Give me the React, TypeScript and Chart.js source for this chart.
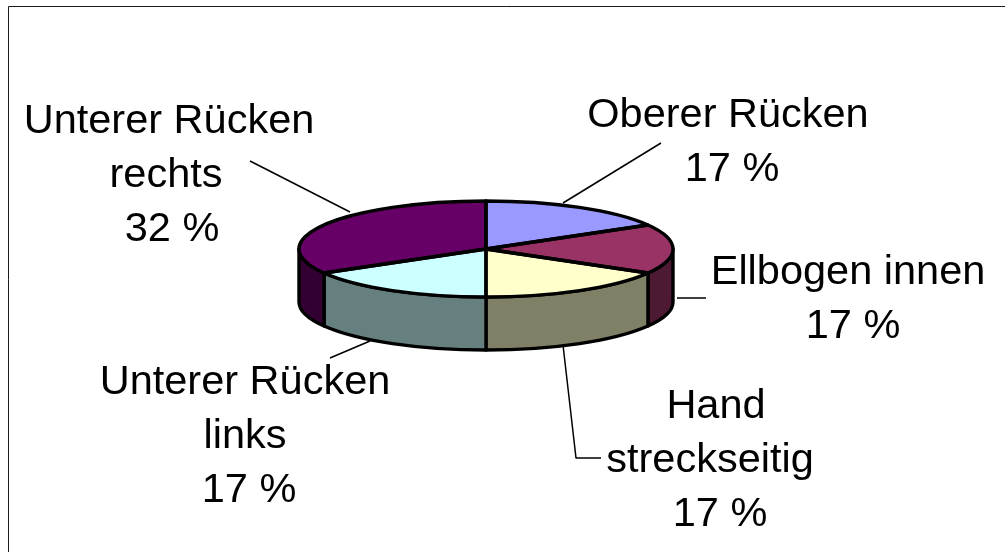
import React, { useEffect, useRef } from "react";
import { Chart, registerables } from "chart.js";

Chart.register(...registerables);

const categories = ["Oberer Rücken", "Ellbogen innen", "Hand streckseitig", "Unterer Rücken links", "Unterer Rücken rechts"];
const sliceValues = [17, 17, 17, 17, 34];
const percentLabels = ["17 %", "17 %", "17 %", "17 %", "32 %"];
const labelLines = [
  ["Oberer Rücken", "17 %"],
  ["Ellbogen innen", "17 %"],
  ["Hand", "streckseitig", "17 %"],
  ["Unterer Rücken", "links", "17 %"],
  ["Unterer Rücken", "rechts", "32 %"],
];
const sliceColors = ["#9999FF", "#993366", "#FFFFCC", "#CCFFFF", "#660066"];
const sideColors = ["#4D4D80", "#4D1933", "#808066", "#668080", "#330033"];

const labelAnchors = [
  { x: 728, y: 127 },
  { x: 848, y: 284 },
  { x: 710, y: 418 },
  { x: 245, y: 394 },
  { x: 169, y: 133 },
];
// small per-line horizontal nudges, as the reference's lines are not perfectly centred
const lineNudges = [
  [0, 4],
  [0, 5],
  [6, 0, 10],
  [0, 0, 4],
  [0, -3, 3],
];
const leaders = [
  [[661, 143], [563, 203]],
  [[677, 298], [706, 298]],
  [[563, 345], [576, 458], [601, 458]],
  [[370, 341], [330, 358]],
  [[250, 161], [350, 212]],
];

const RX = 187;
const RY = 48;
const DEPTH = 53;
const FONT = '41.5px "Liberation Sans", Arial, sans-serif';
const LINE_H = 54;

const pie3d = {
  id: "pie3d",
  beforeDatasetsDraw(chart: any) {
    const ctx = chart.ctx as CanvasRenderingContext2D;
    const arcs = chart.getDatasetMeta(0).data as any[];
    const props = arcs.map((a) => a.getProps(["x", "y", "startAngle", "endAngle", "outerRadius"], true));
    const cx = props[0].x;
    const cy = props[0].y;
    const rx = props[0].outerRadius;
    ctx.save();
    ctx.lineJoin = "round";
    ctx.lineWidth = 3.4;
    ctx.strokeStyle = "#000";

    // outer frame of the picture
    ctx.save();
    ctx.lineWidth = 1;
    ctx.strokeStyle = "#1a1a1a";
    ctx.beginPath();
    ctx.moveTo(8.5, 552);
    ctx.lineTo(8.5, 6.5);
    ctx.lineTo(1005, 6.5);
    ctx.stroke();
    ctx.restore();

    // leader lines
    ctx.save();
    ctx.lineWidth = 1.5;
    leaders.forEach((pts) => {
      ctx.beginPath();
      pts.forEach(([x, y], i) => (i ? ctx.lineTo(x, y) : ctx.moveTo(x, y)));
      ctx.stroke();
    });
    ctx.restore();

    // extruded wall (front half only)
    props.forEach((p, i) => {
      const lo = Math.max(p.startAngle, 0);
      const hi = Math.min(p.endAngle, Math.PI);
      if (hi <= lo) return;
      ctx.beginPath();
      ctx.ellipse(cx, cy, rx, RY, 0, lo, hi);
      ctx.ellipse(cx, cy + DEPTH, rx, RY, 0, hi, lo, true);
      ctx.closePath();
      ctx.fillStyle = sideColors[i];
      ctx.fill();
      ctx.stroke();
    });

    // top face: the library's own arc elements, squashed into an ellipse
    ctx.save();
    ctx.translate(cx, cy);
    ctx.scale(1, RY / rx);
    ctx.translate(-cx, -cy);
    arcs.forEach((a) => a.draw(ctx));
    ctx.restore();

    props.forEach((p) => {
      ctx.beginPath();
      ctx.moveTo(cx, cy);
      ctx.ellipse(cx, cy, rx, RY, 0, p.startAngle, p.endAngle);
      ctx.closePath();
      ctx.stroke();
    });

    // labels
    ctx.fillStyle = "#000";
    ctx.font = FONT;
    ctx.textAlign = "center";
    ctx.textBaseline = "alphabetic";
    labelLines.forEach((lines, i) => {
      lines.forEach((t, j) =>
        ctx.fillText(t, labelAnchors[i].x + lineNudges[i][j], labelAnchors[i].y + j * LINE_H)
      );
    });
    ctx.restore();
    return false;
  },
};

export default function App() {
  const ref = useRef<HTMLCanvasElement>(null);
  useEffect(() => {
    const chart = new Chart(ref.current as HTMLCanvasElement, {
      type: "pie",
      data: {
        labels: categories,
        datasets: [
          {
            data: sliceValues,
            backgroundColor: sliceColors,
            borderWidth: 0,
            radius: RX,
          } as any,
        ],
      },
      options: {
        responsive: false,
        animation: false,
        rotation: 0,
        layout: { padding: { left: 0, right: 33, top: 0, bottom: 54 } },
        plugins: { legend: { display: false }, tooltip: { enabled: false } },
      },
      plugins: [pie3d as any],
    } as any);
    return () => chart.destroy();
  }, []);
  return (
    <canvas
      ref={ref}
      width={1005}
      height={552}
      aria-label={percentLabels.join(", ")}
      style={{ position: "absolute", left: 0, top: 0, display: "block", background: "#fff" }}
    />
  );
}
